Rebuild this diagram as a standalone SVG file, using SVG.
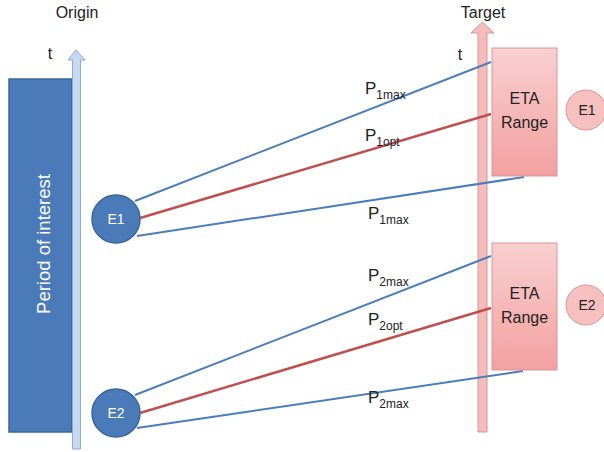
<svg xmlns="http://www.w3.org/2000/svg" width="604" height="452" viewBox="0 0 604 452">
<defs>
<linearGradient id="pinkg" x1="0" y1="0" x2="0" y2="1">
<stop offset="0" stop-color="#f9d0d0"/>
<stop offset="1" stop-color="#f3a0a0"/>
</linearGradient>
<style>
text{font-family:"Liberation Sans","Open Sans",sans-serif;fill:#222}
.lbl{font-size:17px}
.sub{font-size:12px}
.blue{stroke:#4a7ebb;stroke-width:2;fill:none}
.red{stroke:#c0504d;stroke-width:2.5;fill:none}
.eta{fill:url(#pinkg);stroke:#d99694;stroke-width:1}
.pc{fill:#f7c0c0;stroke:#d99694;stroke-width:1}
.bc{fill:#4a7ab8;stroke:#3a659c;stroke-width:1.5}
.wt{fill:#fff;font-size:14px;text-anchor:middle}
.ct{font-size:16px;text-anchor:middle}
</style>
</defs>
<rect width="604" height="452" fill="#fff"/>
<g id="origin-axis">
<text x="77" y="18" class="ct">Origin</text>
<text x="50" y="59" class="ct">t</text>
<rect id="period" x="9" y="79" width="63" height="353" class="bc"/>
<text transform="translate(50,244) rotate(-90)" class="wt" style="font-size:18.5px">Period of interest</text>
<polygon points="76,50 85,60 80.5,60 80.5,449 72.5,449 72.5,60 68,60" fill="#c6d9f1" stroke="#8eaadb" stroke-width="1"/>
</g>
<g id="target-axis">
<text x="483" y="18" class="ct">Target</text>
<text x="460" y="60" class="ct">t</text>
<polygon points="482.5,22 494,33 487,33 487,432 478,432 478,33 471,33" fill="#f6bcbc" stroke="#d99694" stroke-width="1"/>
</g>
<g id="connectors">
<line x1="135" y1="201" x2="491" y2="62" class="blue"/>
<line x1="140" y1="218" x2="491" y2="114" class="red"/>
<line x1="137" y1="236" x2="524" y2="177" class="blue"/>
<line x1="135" y1="395" x2="491" y2="256" class="blue"/>
<line x1="140" y1="413" x2="491" y2="308" class="red"/>
<line x1="137" y1="428" x2="523" y2="371" class="blue"/>
<text x="365" y="94" class="lbl">P<tspan class="sub" dy="5">1max</tspan></text>
<text x="365" y="141" class="lbl">P<tspan class="sub" dy="5">1opt</tspan></text>
<text x="368" y="219" class="lbl">P<tspan class="sub" dy="5">1max</tspan></text>
<text x="368" y="281" class="lbl">P<tspan class="sub" dy="5">2max</tspan></text>
<text x="368" y="325" class="lbl">P<tspan class="sub" dy="5">2opt</tspan></text>
<text x="368" y="403" class="lbl">P<tspan class="sub" dy="5">2max</tspan></text>
</g>
<g id="E1">
<circle cx="116" cy="219" r="24" class="bc"/>
<text x="116" y="224" class="wt">E1</text>
</g>
<g id="E2">
<circle cx="116" cy="413" r="24" class="bc"/>
<text x="116" y="418" class="wt">E2</text>
</g>
<g id="eta1">
<rect x="492" y="48" width="65" height="128" class="eta"/>
<text x="524.5" y="104" class="ct">ETA</text>
<text x="524.5" y="128" class="ct">Range</text>
</g>
<g id="eta2">
<rect x="492" y="243" width="65" height="127" class="eta"/>
<text x="524.5" y="299" class="ct">ETA</text>
<text x="524.5" y="323" class="ct">Range</text>
</g>
<g id="E1-target">
<circle cx="586" cy="110" r="20" class="pc"/>
<text x="587" y="115" class="ct" style="font-size:14px">E1</text>
</g>
<g id="E2-target">
<circle cx="586" cy="305" r="20" class="pc"/>
<text x="587" y="310" class="ct" style="font-size:14px">E2</text>
</g>
</svg>
